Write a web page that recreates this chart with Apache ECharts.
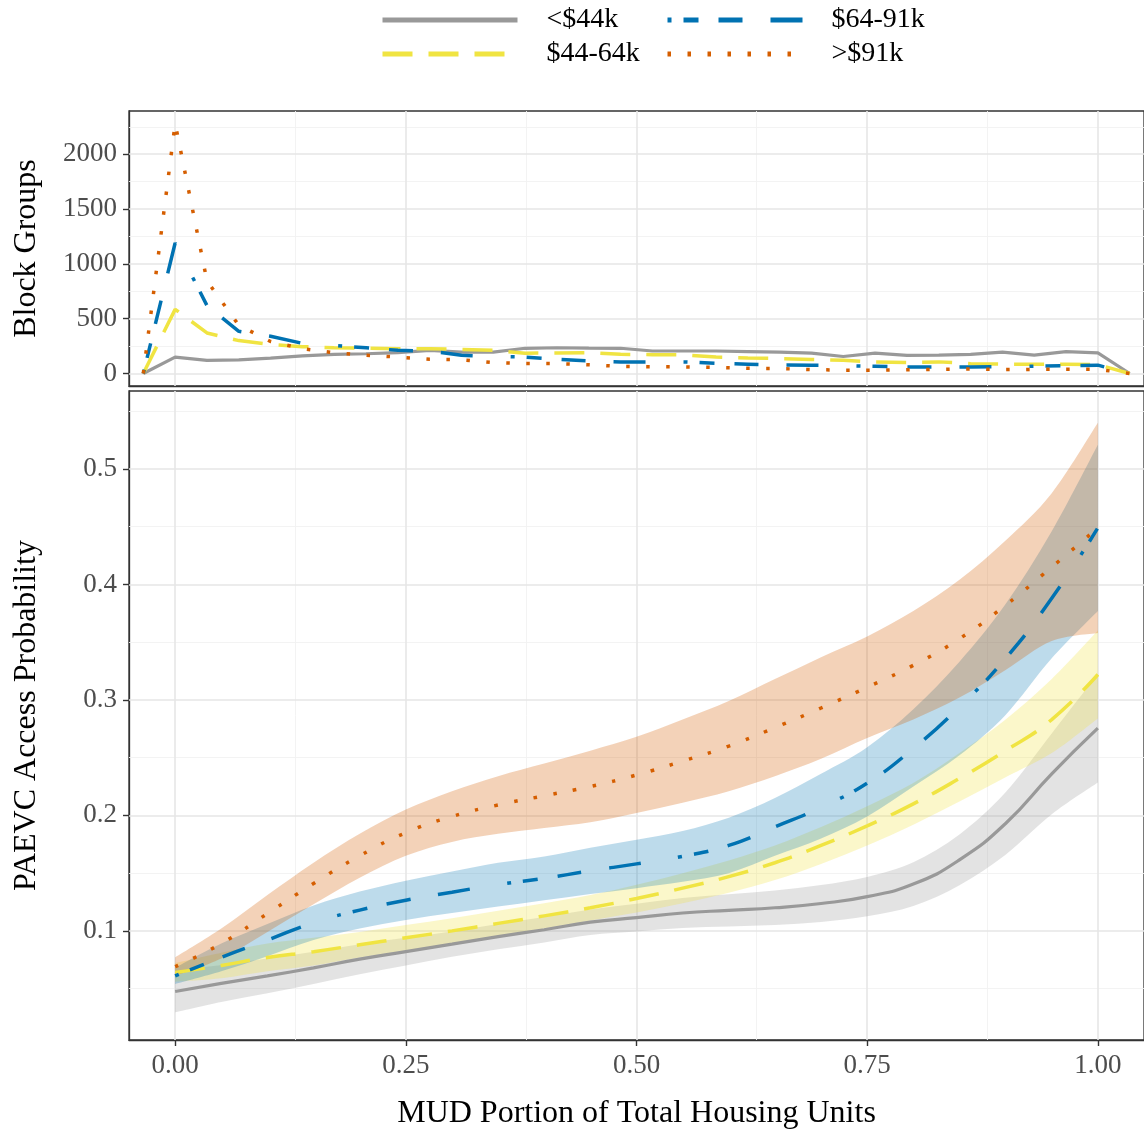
<!DOCTYPE html>
<html>
<head>
<meta charset="utf-8">
<script src="https://cdn.jsdelivr.net/npm/echarts@6/dist/echarts.min.js"></script>
<style>
  html, body { margin: 0; padding: 0; background: #ffffff; }
  #chart { width: 1144px; height: 1141px; }
</style>
</head>
<body>
<div id="chart"></div>
<script>
// ---- income groups -------------------------------------------------------
const groupNames = ['<$44k', '$44-64k', '$64-91k', '>$91k'];

// ---- top panel: block group counts per MUD-share bin ---------------------
const binMids = [-0.0345, 0, 0.0345, 0.069, 0.1034, 0.1379, 0.1724, 0.2069, 0.2414, 0.2759,
  0.3103, 0.3448, 0.3793, 0.4138, 0.4483, 0.4828, 0.5172, 0.5517, 0.5862, 0.6207, 0.6552,
  0.6897, 0.7241, 0.7586, 0.7931, 0.8276, 0.8621, 0.8966, 0.931, 0.9655, 1.0, 1.0345];
const countLow = [0, 150, 120, 125, 140, 160, 175, 180, 190, 211, 195, 195, 230, 235, 232, 230,
  205, 205, 205, 200, 195, 185, 155, 185, 165, 168, 175, 195, 168, 200, 188, 0];
const countLowMid = [0, 585, 370, 300, 265, 245, 235, 230, 226, 225, 220, 211, 185, 188, 190, 175,
  172, 170, 150, 142, 136, 128, 121, 105, 100, 106, 90, 85, 85, 85, 80, 0];
const countUpMid = [0, 1190, 620, 385, 340, 275, 255, 235, 211, 205, 166, 155, 150, 130, 115, 106,
  106, 106, 92, 85, 78, 76, 72, 66, 60, 60, 60, 63, 66, 72, 76, 0];
const countHigh = [0, 2280, 845, 440, 292, 226, 190, 166, 150, 130, 125, 100, 92, 90, 80, 65,
  62, 60, 55, 47, 45, 36, 30, 30, 35, 38, 42, 35, 38, 38, 38, 0];

// ---- bottom panel: fitted access probability with confidence band --------
const fitX = [0, 0.05, 0.1, 0.15, 0.2, 0.25, 0.3, 0.35, 0.4, 0.45, 0.5,
  0.55, 0.6, 0.65, 0.7, 0.75, 0.8, 0.85, 0.9, 0.95, 1.0];

const fitLow = [0.0475, 0.0545, 0.061, 0.068, 0.0755, 0.082, 0.0885, 0.095, 0.101, 0.1075, 0.1115,
  0.1155, 0.1178, 0.120, 0.1237, 0.1297, 0.1405, 0.1615, 0.193, 0.236, 0.2755];
const fitLowLo = [0.0295, 0.0385, 0.046, 0.054, 0.0625, 0.070, 0.0775, 0.084, 0.090, 0.0965, 0.0995,
  0.1025, 0.1038, 0.105, 0.1077, 0.1127, 0.1215, 0.1395, 0.166, 0.201, 0.2285];
const fitLowHi = [0.0655, 0.0705, 0.076, 0.082, 0.0885, 0.094, 0.0995, 0.106, 0.112, 0.1185, 0.1235,
  0.1285, 0.1318, 0.135, 0.1397, 0.1467, 0.1595, 0.1835, 0.220, 0.271, 0.3225];

const fitLowMid = [0.064, 0.070, 0.077, 0.082, 0.088, 0.094, 0.100, 0.1065, 0.113, 0.120, 0.128,
  0.137, 0.147, 0.159, 0.174, 0.191, 0.210, 0.232, 0.256, 0.283, 0.322];
const fitLowMidLo = [0.056, 0.059, 0.065, 0.070, 0.077, 0.083, 0.089, 0.0955, 0.102, 0.109, 0.116,
  0.124, 0.133, 0.144, 0.158, 0.174, 0.192, 0.212, 0.233, 0.254, 0.284];
const fitLowMidHi = [0.072, 0.081, 0.089, 0.094, 0.099, 0.105, 0.111, 0.1175, 0.124, 0.131, 0.140,
  0.150, 0.161, 0.174, 0.190, 0.208, 0.228, 0.254, 0.283, 0.318, 0.360];

const fitUpMid = [0.061, 0.077, 0.092, 0.107, 0.118, 0.1265, 0.1335, 0.140, 0.1455, 0.152, 0.158,
  0.1645, 0.174, 0.190, 0.207, 0.228, 0.258, 0.294, 0.336, 0.388, 0.449];
const fitUpMidLo = [0.054, 0.065, 0.078, 0.092, 0.102, 0.1095, 0.1155, 0.121, 0.1265, 0.132, 0.137,
  0.1425, 0.150, 0.165, 0.180, 0.199, 0.225, 0.252, 0.287, 0.336, 0.377];
const fitUpMidHi = [0.068, 0.089, 0.106, 0.122, 0.134, 0.1435, 0.1515, 0.159, 0.1645, 0.172, 0.179,
  0.1865, 0.198, 0.215, 0.236, 0.259, 0.292, 0.333, 0.383, 0.446, 0.521];

const fitHigh = [0.069, 0.089, 0.115, 0.141, 0.165, 0.185, 0.199, 0.209, 0.217, 0.225, 0.235,
  0.247, 0.260, 0.276, 0.293, 0.311, 0.330, 0.353, 0.382, 0.415, 0.449];
const fitHighLo = [0.061, 0.076, 0.099, 0.123, 0.146, 0.165, 0.177, 0.184, 0.189, 0.194, 0.202,
  0.211, 0.221, 0.234, 0.249, 0.267, 0.283, 0.302, 0.326, 0.351, 0.358];
const fitHighHi = [0.077, 0.102, 0.131, 0.159, 0.184, 0.205, 0.221, 0.234, 0.245, 0.256, 0.268,
  0.283, 0.299, 0.318, 0.337, 0.355, 0.377, 0.404, 0.438, 0.479, 0.540];

// ---- axis ticks ------------------------------------------------------------
const xTicks = [0, 0.25, 0.5, 0.75, 1];
const xTickLabels = ['0.00', '0.25', '0.50', '0.75', '1.00'];
const xMinor = [0.125, 0.375, 0.625, 0.875];
const countTicks = [0, 500, 1000, 1500, 2000];
const countTickLabels = ['0', '500', '1000', '1500', '2000'];
const countMinor = [250, 750, 1250, 1750, 2250];
const probTicks = [0.1, 0.2, 0.3, 0.4, 0.5];
const probTickLabels = ['0.1', '0.2', '0.3', '0.4', '0.5'];
const probMinor = [0.05, 0.15, 0.25, 0.35, 0.45, 0.55];

// ---- styling -----------------------------------------------------------------
const FONT = '"Liberation Serif", "Times New Roman", serif';
const groupStyle = [
  { color: '#999999', band: 'rgba(153,153,153,0.27)', type: 'solid', width: 3.2 },
  { color: '#F0E442', band: 'rgba(240,228,66,0.28)', type: [30, 16], width: 3.5 },
  { color: '#0072B2', band: 'rgba(0,114,178,0.26)', type: [4, 12, 15, 20, 24, 28, 32, 38], width: 3.5 },
  { color: '#D55E00', band: 'rgba(213,94,0,0.28)', type: [3.5, 16.5], width: 3.5 }
];
const counts = [countLow, countLowMid, countUpMid, countHigh];
const fits = [fitLow, fitLowMid, fitUpMid, fitHigh];
const fitsLo = [fitLowLo, fitLowMidLo, fitUpMidLo, fitHighLo];
const fitsHi = [fitLowHi, fitLowMidHi, fitUpMidHi, fitHighHi];

const MAJOR = { color: '#E6E6E6', width: 1.6, type: 'solid' };
const MINOR = { color: '#F2F2F2', width: 0.9, type: 'solid' };

function gridLines(xi, yi, yMajor, yMinor) {
  const items = [];
  xMinor.forEach(v => items.push({ xAxis: v, lineStyle: MINOR }));
  yMinor.forEach(v => items.push({ yAxis: v, lineStyle: MINOR }));
  xTicks.forEach(v => items.push({ xAxis: v, lineStyle: MAJOR }));
  yMajor.forEach(v => items.push({ yAxis: v, lineStyle: MAJOR }));
  return {
    type: 'line', xAxisIndex: xi, yAxisIndex: yi, data: [], silent: true, z: 1,
    markLine: {
      silent: true, z: 1, animation: false, symbol: ['none', 'none'],
      label: { show: false }, emphasis: { disabled: true },
      data: items
    }
  };
}

function labelFor(values, labels) {
  return v => {
    const k = values.findIndex(t => Math.abs(t - v) < 1e-9);
    return k >= 0 ? labels[k] : '';
  };
}

// Catmull-Rom curve through pixel points, as SVG path commands (no leading move)
function curveThrough(pts) {
  let d = '';
  for (let i = 0; i < pts.length - 1; i++) {
    const p0 = pts[Math.max(i - 1, 0)], p1 = pts[i], p2 = pts[i + 1], p3 = pts[Math.min(i + 2, pts.length - 1)];
    const c1 = [p1[0] + (p2[0] - p0[0]) / 6, p1[1] + (p2[1] - p0[1]) / 6];
    const c2 = [p2[0] - (p3[0] - p1[0]) / 6, p2[1] - (p3[1] - p1[1]) / 6];
    d += ' C' + c1[0] + ',' + c1[1] + ' ' + c2[0] + ',' + c2[1] + ' ' + p2[0] + ',' + p2[1];
  }
  return d;
}

function bandSeries(g) {
  const lo = fitsLo[g], hi = fitsHi[g];
  return {
    type: 'custom', name: groupNames[g] + ' band', xAxisIndex: 1, yAxisIndex: 1, z: 2,
    silent: true, data: [0],
    renderItem: (params, api) => {
      const up = fitX.map((x, i) => api.coord([x, hi[i]]));
      const dn = fitX.map((x, i) => api.coord([x, lo[i]])).reverse();
      const d = 'M' + up[0][0] + ',' + up[0][1] + curveThrough(up) +
        ' L' + dn[0][0] + ',' + dn[0][1] + curveThrough(dn) + ' Z';
      return {
        type: 'path',
        shape: { pathData: d, layout: 'center' },
        style: { fill: groupStyle[g].band, stroke: null }
      };
    }
  };
}

const series = [gridLines(0, 0, countTicks, countMinor), gridLines(1, 1, probTicks, probMinor)];

// frequency polygons
groupNames.forEach((name, g) => {
  const st = groupStyle[g];
  series.push({
    type: 'line', name, xAxisIndex: 0, yAxisIndex: 0, z: 2,
    symbol: 'none', silent: true,
    data: binMids.map((x, i) => [x, counts[g][i]]),
    lineStyle: { color: st.color, width: st.width, type: st.type },
    itemStyle: { color: st.color }
  });
});

// confidence bands and fitted lines, drawn group by group
groupNames.forEach((name, g) => {
  const st = groupStyle[g];
  series.push(bandSeries(g));
  series.push({
    type: 'line', name, xAxisIndex: 1, yAxisIndex: 1, z: 2,
    smooth: true, symbol: 'none', silent: true,
    data: fitX.map((x, i) => [x, fits[g][i]]),
    lineStyle: { color: st.color, width: st.width, type: st.type },
    itemStyle: { color: st.color }
  });
});

function legendBlock(left, names) {
  return {
    left, top: 6, orient: 'vertical', padding: 0, itemGap: 6,
    itemWidth: 135, itemHeight: 20, selectedMode: false,
    itemStyle: { opacity: 0 },
    textStyle: { fontFamily: FONT, fontSize: 28, color: '#000000', padding: [0, 0, 0, 24] },
    data: names.map(n => {
      const st = groupStyle[groupNames.indexOf(n)];
      return { name: n, lineStyle: { color: st.color, width: 5, type: st.type, opacity: 1 } };
    })
  };
}

const tickLabel = { fontFamily: FONT, fontSize: 27, color: '#4D4D4D' };
const titleText = { fontFamily: FONT, fontSize: 32, color: '#000000' };
const tickStyle = { show: true, inside: false, length: 6, lineStyle: { color: '#333333', width: 1.4 } };
const edgeLine = { show: true, onZero: false, lineStyle: { color: '#333333', width: 1.3 } };

const option = {
  animation: false,
  backgroundColor: '#ffffff',
  legend: [
    legendBlock(380, ['<$44k', '$44-64k']),
    legendBlock(665, ['$64-91k', '>$91k'])
  ],
  grid: [
    { left: 129, top: 111, width: 1016, height: 275, show: true,
      borderColor: '#333333', borderWidth: 1.3, backgroundColor: '#ffffff' },
    { left: 129, top: 391, width: 1016, height: 649, show: true,
      borderColor: '#333333', borderWidth: 1.3, backgroundColor: '#ffffff' }
  ],
  xAxis: [
    { type: 'value', gridIndex: 0, min: -0.05, max: 1.05,
      axisLine: edgeLine, axisTick: { show: false },
      axisLabel: { show: false }, splitLine: { show: false } },
    { type: 'value', gridIndex: 1, min: -0.05, max: 1.05,
      axisLine: edgeLine,
      axisTick: Object.assign({ customValues: xTicks }, tickStyle),
      axisLabel: Object.assign({ customValues: xTicks, margin: 12,
        formatter: labelFor(xTicks, xTickLabels) }, tickLabel),
      splitLine: { show: false },
      name: 'MUD Portion of Total Housing Units', nameLocation: 'middle', nameGap: 58,
      nameTextStyle: titleText }
  ],
  yAxis: [
    { type: 'value', gridIndex: 0, min: -114, max: 2394,
      axisLine: edgeLine,
      axisTick: Object.assign({ customValues: countTicks }, tickStyle),
      axisLabel: Object.assign({ customValues: countTicks, margin: 12,
        formatter: labelFor(countTicks, countTickLabels) }, tickLabel),
      splitLine: { show: false },
      name: 'Block Groups', nameLocation: 'middle', nameGap: 86,
      nameTextStyle: titleText },
    { type: 'value', gridIndex: 1, min: 0.0055, max: 0.5675,
      axisLine: edgeLine,
      axisTick: Object.assign({ customValues: probTicks }, tickStyle),
      axisLabel: Object.assign({ customValues: probTicks, margin: 12,
        formatter: labelFor(probTicks, probTickLabels) }, tickLabel),
      splitLine: { show: false },
      name: 'PAEVC Access Probability', nameLocation: 'middle', nameGap: 86,
      nameTextStyle: titleText }
  ],
  series
};

const chart = echarts.init(document.getElementById('chart'), null, { renderer: 'canvas' });
chart.setOption(option);
</script>
</body>
</html>
